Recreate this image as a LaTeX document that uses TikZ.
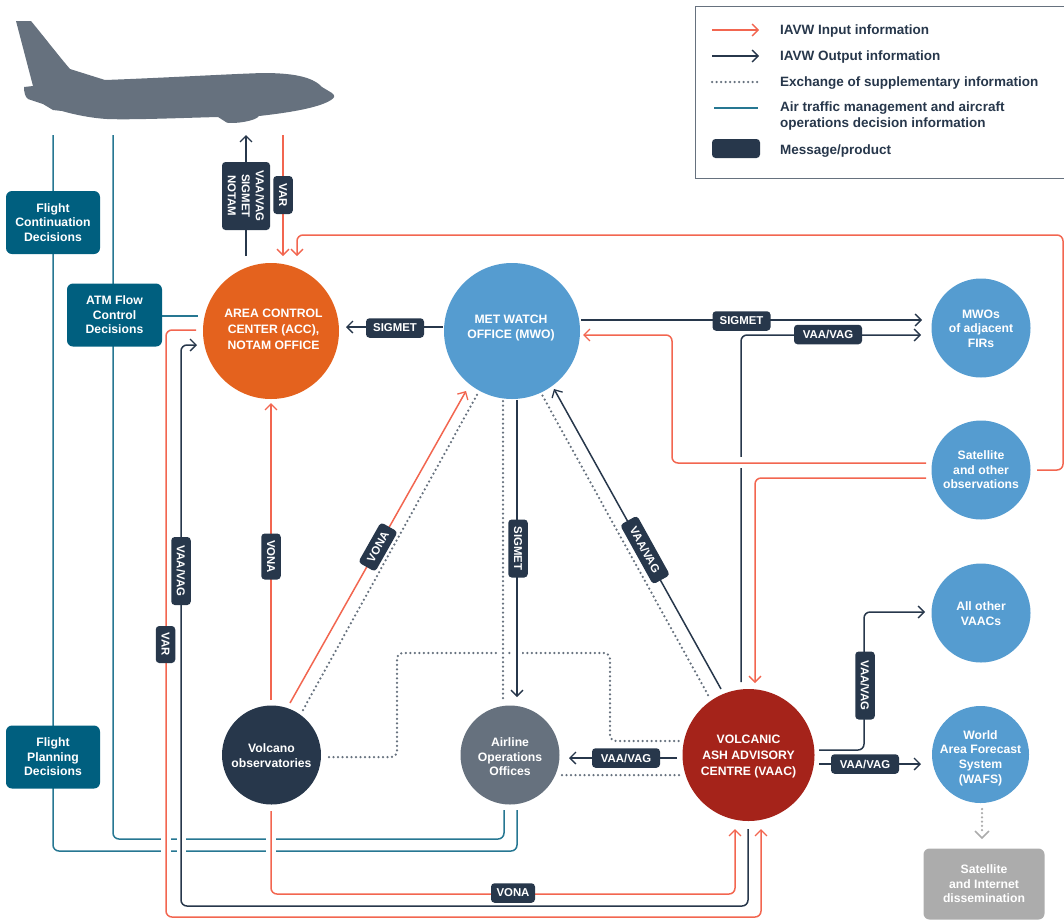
\documentclass[tikz,border=0pt]{standalone}
\usepackage{fontspec}
\setmainfont{Liberation Sans}
\usetikzlibrary{arrows.meta}
\definecolor{cnavy}{HTML}{27374B}
\definecolor{cred}{HTML}{F26650}
\definecolor{cteal}{HTML}{005F7F}
\definecolor{cblue}{HTML}{559CD0}
\definecolor{corange}{HTML}{E4621E}
\definecolor{cdark}{HTML}{A5231A}
\definecolor{cslate}{HTML}{66717E}
\definecolor{cgrey}{HTML}{ACACAC}
\tikzset{
  x=1pt,y=-1pt,
  every node/.style={font=\bfseries\fontsize{12.2}{14.6}\selectfont,text=white,align=center,inner sep=0pt},
  circ/.style={circle,minimum size=#1,fill=cblue},
  bigtxt/.style={font=\bfseries\fontsize{12.2}{16}\selectfont},
  tip/.style={-{Straight Barb[length=6pt,width=12pt,line width=1.3pt]}},
  inp/.style={draw=cred,line width=1.5pt,rounded corners=6pt},
  outp/.style={draw=cnavy,line width=1.5pt,rounded corners=6pt},
  teal/.style={draw=cteal!85,line width=1.5pt,rounded corners=6pt},
  sup/.style={draw=cslate,line width=2.5pt,line cap=round,dash pattern=on 0pt off 4.5pt,rounded corners=6pt},
  msg/.style={fill=cnavy,rounded corners=3.5pt,minimum height=19.5pt,font=\bfseries\fontsize{11.4}{14}\selectfont},
  decis/.style={fill=cteal,rounded corners=6pt,minimum width=94pt,minimum height=63pt},
  legend/.style={text=cnavy,align=left,anchor=west,font=\bfseries\fontsize{13.5}{16.5}\selectfont},
  gap/.style={draw=white,line width=4pt}
}
\begin{document}
\begin{tikzpicture}
\useasboundingbox (0,0) rectangle (1064,919);
% aeroplane
\fill[cslate] (16,21) -- (31,21) .. controls (45,38) and (58,55) .. (70,69) -- (105,80)
 .. controls (160,78) and (230,74) .. (263,73) .. controls (290,73) and (312,76) .. (322,87)
 -- (332,93) .. controls (336,96) and (334,98) .. (331,100) .. controls (320,107) and (295,112) .. (259,116)
 .. controls (256,121) and (235,124) .. (227,122.7) -- (218,117)
 .. controls (180,118) and (130,120) .. (107,119) .. controls (90,118) and (72,114) .. (62,111)
 -- (53,110) -- (43,104) -- (28,99) .. controls (25,97) and (24,92) .. (24,87) -- (33,86) -- cycle;
% circles
\node[circ=136pt,fill=corange] (acc) at (271,331) {};
\node[circ=136pt] (mwo) at (512,331) {};
\node[circ=99pt] (adj) at (981,328) {};
\node[circ=99pt] (sat) at (981,470) {};
\node[circ=99pt] (oth) at (981,613) {};
\node[circ=97pt] (wafs) at (980.5,754.5) {};
\node[circ=132pt,fill=cdark] (vaac) at (748.5,755) {};
\node[circ=99pt,fill=cnavy] (volc) at (271.5,755) {};
\node[circ=99pt,fill=cslate] (air) at (510,755) {};
% free ends
\coordinate (planeL) at (53,135); \coordinate (planeM) at (113,135);
\coordinate (planeO) at (246,135); \coordinate (planeI) at (283,135);
% teal
\draw[teal] (planeL) -- (53,851) -- (517,851) -- (517,810);
\draw[teal] (planeM) -- (113,839) -- (504,839) -- (504,810);
\draw[teal] (162,316) -- (198,316);
% gaps across the teal lines
\draw[gap] (161,839) -- (171,839) (161,851) -- (171,851) (177,839) -- (186,839) (177,851) -- (186,851) (266,839) -- (276,839) (266,851) -- (276,851);
% plane links
\draw[outp,tip] (246,256) -- (planeO);
\draw[inp,tip] (planeI) -- (283,256);
% satellite to ACC
\draw[inp,tip] (1037,470) -- (1063,470) -- (1063,235) -- (297,235) -- (297,256);
% ACC left link and outer red
\draw[inp,tip] (196,330) -- (166,330) -- (166,917) -- (761,917) -- (761,829);
% navy from ACC to VAAC
\draw[outp,tip] (748,829) -- (748,906) -- (181,906) -- (181,345) -- (197,345);
% red volcano to VAAC
\draw[inp,tip] (271,811) -- (271,894) -- (735,894) -- (735,829);
% volc up to ACC
\draw[inp,tip] (271,700) -- (271,403);
\draw[inp,tip] (290,703) -- (466,391);
\draw[sup] (303,710) -- (478,393);
\draw[sup] (329,757) -- (397,757) -- (397,653) -- (610,653) -- (610,741) -- (680,741);
\draw[gap] (498,653) -- (508,653) (511,653) -- (522,653);
\draw[sup] (503,401) -- (503,700);
\draw[outp,tip] (517,400) -- (517,697);
\draw[sup] (708,695) -- (541,393);
\draw[outp,tip] (721,689) -- (554,389);
\draw[sup] (562,775) -- (680,775);
\draw[outp,tip] (677,758) -- (569,758);
\draw[outp,tip] (443,327) -- (346,327);
\draw[outp,tip] (581,320) -- (922,320);
\draw[outp,tip] (741,682) -- (741,335) -- (921,335);
\draw[gap] (741,457) -- (741,468);
\draw[inp,tip] (926,463) -- (672,463) -- (672,335) -- (583,335);
\draw[inp,tip] (926,478) -- (755,478) -- (755,683);
\draw[outp,tip] (819,750) -- (864,750) -- (864,612) -- (925,612);
\draw[outp,tip] (819,764) -- (921,764);
\draw[draw=cgrey,line width=2.5pt,line cap=round,dash pattern=on 0pt off 4.2pt] (982,809) -- (982,832);
\draw[cgrey,line width=1.6pt] (975,831) -- (982,838) -- (989,831);
% message labels
\node[msg,minimum width=58pt] (m1) at (395,328) {SIGMET};
\node[msg,minimum width=58pt] (m2) at (741.5,321) {SIGMET};
\node[msg,minimum width=68pt] (m3) at (828,334.5) {VAA/VAG};
\node[msg,minimum width=68pt] (m4) at (626,758) {VAA/VAG};
\node[msg,minimum width=68pt] (m5) at (865,764) {VAA/VAG};
\node[msg,minimum width=44pt] (m6) at (513,893) {VONA};
\node[msg,rotate=-90,minimum width=68pt] (m7) at (865,685.5) {VAA/VAG};
\node[msg,rotate=-90,minimum width=58pt] (m8) at (518,548.5) {SIGMET};
\node[msg,rotate=-90,minimum width=46pt] (m9) at (271,556.5) {VONA};
\node[msg,rotate=-90,minimum width=68pt] (m10) at (181,571) {VAA/VAG};
\node[msg,rotate=-90,minimum width=37pt] (m11) at (165.5,644.5) {VAR};
\node[msg,rotate=-90,minimum width=38pt] (m12) at (283,195) {VAR};
\node[msg,rotate=-90,minimum height=48pt,minimum width=68pt] (m13) at (246,196) {VAA/VAG\\SIGMET\\NOTAM};
\node[msg,rotate=-61,minimum width=68pt] (m14) at (645,550) {VAA/VAG};
\node[msg,rotate=60.5,minimum width=46pt] (m15) at (378,547) {VONA};
% decisions
\node[decis] (d1) at (53,222.5) {Flight\\Continuation\\Decisions};
\node[decis,minimum width=95pt] (d2) at (114.5,315) {ATM Flow\\Control\\Decisions};
\node[decis] (d3) at (53,757) {Flight\\Planning\\Decisions};
% circle text
\node[bigtxt] at (273.5,329) {AREA CONTROL\\CENTER (ACC),\\NOTAM OFFICE};
\node at (511,328) {MET WATCH\\OFFICE (MWO)};
\node at (981,328.5) {MWOs\\of adjacent\\FIRs};
\node at (sat) {Satellite\\and other\\observations};
\node at (981,613.5) {All other\\VAACs};
\node at (980.5,758) {World\\Area Forecast\\System\\(WAFS)};
\node[bigtxt] at (748.5,756) {VOLCANIC\\ASH ADVISORY\\CENTRE (VAAC)};
\node at (271.5,755.5) {Volcano\\observatories};
\node at (510,757) {Airline\\Operations\\Offices};
\node[fill=cgrey,rounded corners=6pt,minimum width=121pt,minimum height=71pt] (sid) at (984,884) {Satellite\\and Internet\\dissemination};
% legend
\node[draw=cslate,line width=1pt,minimum width=380pt,minimum height=172pt,anchor=north west] (lg) at (694.5,5.5) {};
\coordinate (l1a) at (712,30); \coordinate (l1b) at (759,30);
\coordinate (l2a) at (712,56); \coordinate (l2b) at (759,56);
\coordinate (l3a) at (712,82); \coordinate (l3b) at (761,82);
\coordinate (l4a) at (714,108); \coordinate (l4b) at (758,108);
\draw[inp,tip] (l1a) -- (l1b);
\draw[outp,tip] (l2a) -- (l2b);
\draw[sup] (l3a) -- (l3b);
\draw[teal] (l4a) -- (l4b);
\node[fill=cnavy,rounded corners=3.5pt,minimum width=48pt,minimum height=19pt] (l5) at (736,148.5) {};
\node[legend] at (780,31) {IAVW Input information};
\node[legend] at (780,57) {IAVW Output information};
\node[legend] at (780,83) {Exchange of supplementary information};
\node[legend] at (780,116) {Air traffic management and aircraft\\operations decision information};
\node[legend] at (780,151) {Message/product};
\end{tikzpicture}
\end{document}
